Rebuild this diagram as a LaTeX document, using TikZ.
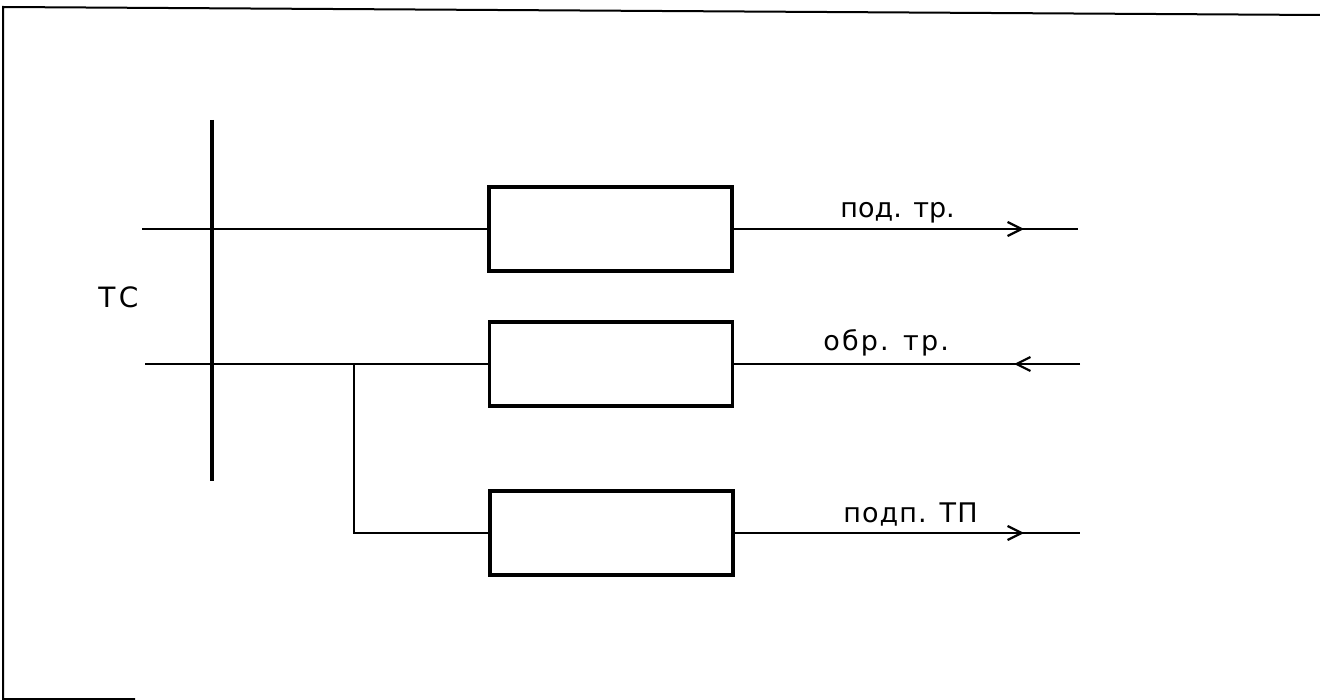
\documentclass[tikz,border=0pt]{standalone}
\usepackage{fontspec}
\setmainfont{DejaVu Sans}
\usetikzlibrary{arrows.meta}
\begin{document}
\begin{tikzpicture}[x=0.5pt,y=-0.5pt,
  blk/.style={draw,line width=1.7pt,minimum width=121.5pt,minimum height=42pt,inner sep=0pt},
  wire/.style={line width=1.1pt},
  bus/.style={line width=1.6pt},
  flow/.style={wire,-{Straight Barb[length=7pt,width=7pt,line width=1.1pt]}},
  lbl/.style={font=\fontsize{13.5}{16}\selectfont,inner sep=0pt,anchor=base west}]
\useasboundingbox (0,0) rectangle (1320,700);
% frame
\draw[line width=1pt] (1320,15) -- (3,7) -- (3,699) -- (135,699);
% bus
\coordinate (bt) at (212,120);
\coordinate (bb) at (212,481);
\draw[bus] (bt) -- (bb);
\node[lbl,font=\fontsize{14}{16}\selectfont\addfontfeature{LetterSpace=12}] (tc) at (98,307) {ТС};
% boxes
\node[blk] (b1) at (610.5,229) {};
\node[blk] (b2) at (611,364) {};
\node[blk] (b3) at (611.5,533) {};
% inputs
\coordinate (s1) at (142,229);
\coordinate (s2) at (145,364);
\draw[wire] (s1) -- (b1.west);
\draw[wire] (s2) -- (b2.west);
\coordinate (j) at (354,364);
\draw[wire] (j) |- (b3.west);
% outputs
\coordinate (e1) at (1078,229);
\coordinate (a1) at (1024,229);
\coordinate (e2) at (1080,364);
\coordinate (a2) at (1014,364);
\coordinate (e3) at (1080,533);
\coordinate (a3) at (1024,533);
\draw[wire] (b1.east) -- (e1);
\draw[flow] (b1.east) -- (a1);
\draw[wire] (b2.east) -- (e2);
\draw[flow] (e2) -- (a2);
\draw[wire] (b3.east) -- (e3);
\draw[flow] (b3.east) -- (a3);
% labels
\node[lbl] (l1) at (840,218) {под. тр.};
\node[lbl,font=\fontsize{13.5}{16}\selectfont\addfontfeature{LetterSpace=8}] (l2) at (823,350) {обр. тр.};
\node[lbl,font=\fontsize{13.5}{16}\selectfont\addfontfeature{LetterSpace=4}] (l3) at (843,522) {подп. ТП};
\end{tikzpicture}
\end{document}
